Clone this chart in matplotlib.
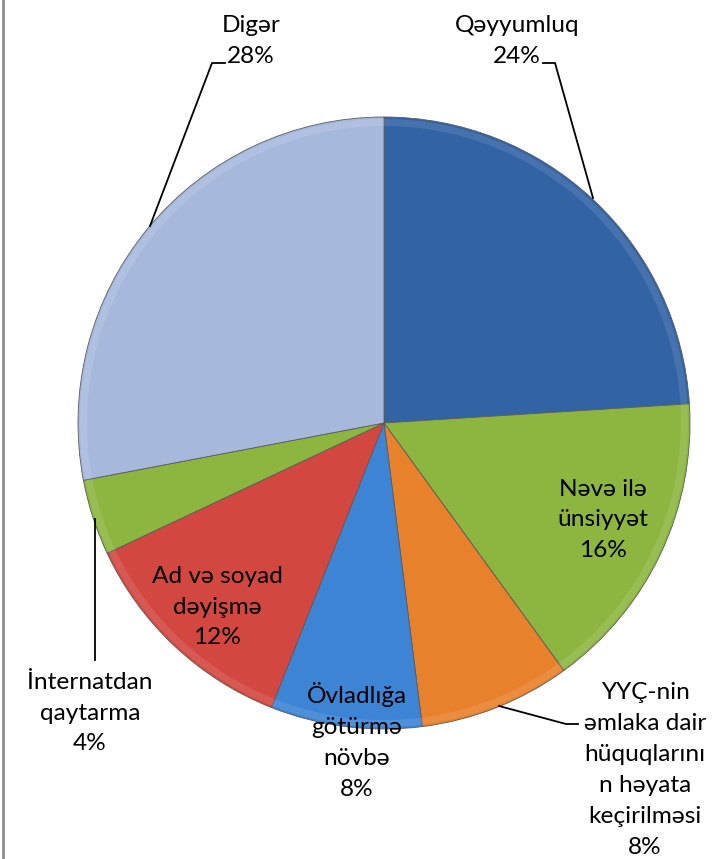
import matplotlib
matplotlib.use("Agg")
import matplotlib.pyplot as plt

# data
labels = ["Qəyyumluq", "Nəvə ilə\nünsiyyət",
          "YYÇ-nin\nəmlaka dair\nhüquqlarını\nn həyata\nkeçirilməsi",
          "Övladlığa\ngötürmə\nnövbə", "Ad və soyad\ndəyişmə",
          "İnternatdan\nqaytarma", "Digər"]
values = [24, 16, 8, 8, 12, 4, 28]
colors = ["#3263A5", "#8CB640", "#E8812C", "#3D84D5", "#D24840", "#8CB640", "#A6B9DD"]

plt.rcParams['font.family'] = ['Lato', 'DejaVu Sans']

W, H = 714, 859
fig = plt.figure(figsize=(W / 100, H / 100), dpi=100)
ax = fig.add_axes([0, 0, 1, 1])

cx, cy, R = 384, H - 423, 306
wedges, _ = ax.pie(values, colors=colors, startangle=90, counterclock=False,
                   center=(cx, cy), radius=R,
                   wedgeprops=dict(edgecolor="#5a5a5a", linewidth=0.6))
# soft bevel on the rim
ax.pie(values, colors=["none"] * len(values), startangle=90, counterclock=False,
       center=(cx, cy), radius=R - 2,
       wedgeprops=dict(width=7, edgecolor="none", facecolor=(1, 1, 1, 0.1)))

ax.set_xlim(0, W)
ax.set_ylim(0, H)
ax.set_aspect("equal")
ax.axis("off")

fs = 17.6
lab = [f"{l}\n{v}%" for l, v in zip(labels, values)]

def txt(i, x, y):
    ax.text(x, H - y, lab[i], ha="center", va="center", fontsize=fs,
            linespacing=1.58, color="black")

def leader(pts):
    ax.plot([p[0] for p in pts], [H - p[1] for p in pts], color="black", lw=1.3,
            solid_joinstyle="miter")

# Qəyyumluq
txt(0, 517, 41)
leader([(543, 63), (555, 63), (593, 198)])
# Nəvə ilə ünsiyyət
txt(1, 603, 520)
# YYÇ
txt(2, 645, 770)
leader([(499, 706), (566, 724), (578, 724)])
# Övladlığa
txt(3, 357, 741)
# Ad və soyad
txt(4, 217, 607)
# İnternatdan
txt(5, 90, 713)
leader([(95, 519), (95, 660)])
# Digər
txt(6, 251, 41)
leader([(225, 63), (212, 63), (150, 226)])

# left frame line
ax.plot([3, 3], [0, H], color="#8c8c8c", lw=2)

fig.savefig("out.png", dpi=100)
